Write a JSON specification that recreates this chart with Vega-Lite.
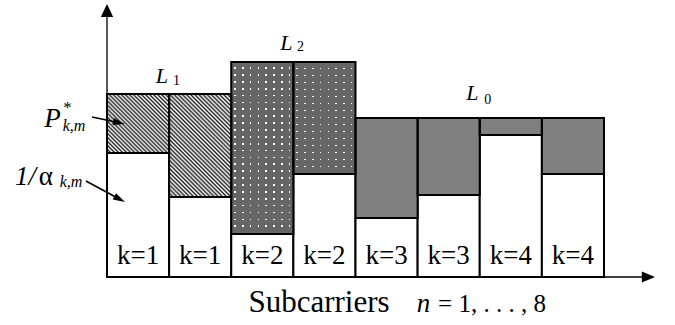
{
"$schema": "https://vega.github.io/schema/vega-lite/v6.json",
"width": 675, "height": 325,
"autosize": {"type": "fit", "contains": "padding"},
"padding": 0,
"background": "white",
"view": {"stroke": null},
"config": {"text": {"font": "'Liberation Serif', 'Times New Roman', Times, 'DejaVu Serif', serif"}},
"datasets": {
"bars": [
{"n":1,"k":"k=1","lo":0.5,"hi":1.5,"inv_alpha":12.4,"level":18.3,"group":"L1"},
{"n":2,"k":"k=1","lo":1.5,"hi":2.5,"inv_alpha":8.0,"level":18.3,"group":"L1"},
{"n":3,"k":"k=2","lo":2.5,"hi":3.5,"inv_alpha":4.3,"level":21.5,"group":"L2"},
{"n":4,"k":"k=2","lo":3.5,"hi":4.5,"inv_alpha":10.3,"level":21.5,"group":"L2"},
{"n":5,"k":"k=3","lo":4.5,"hi":5.5,"inv_alpha":5.9,"level":15.9,"group":"L0"},
{"n":6,"k":"k=3","lo":5.5,"hi":6.5,"inv_alpha":8.2,"level":15.9,"group":"L0"},
{"n":7,"k":"k=4","lo":6.5,"hi":7.5,"inv_alpha":14.2,"level":15.9,"group":"L0"},
{"n":8,"k":"k=4","lo":7.5,"hi":8.5,"inv_alpha":10.3,"level":15.9,"group":"L0"}
],
"levelL": [{"x":1.385,"y":19.4,"text":"L"},{"x":3.389,"y":22.7,"text":"L"},{"x":6.383,"y":17.7,"text":"L"}],
"levelSub": [{"x":1.62,"y":19.2,"text":"1"},{"x":3.615,"y":22.63,"text":"2"},{"x":6.63,"y":17.3,"text":"0"}],
"italicBig": [{"x":-0.377,"y":15.0,"text":"P"},{"x":-0.812,"y":9.2,"text":"1/"},{"x":5.595,"y":-3.47,"text":"n"}],
"greek": [{"x":-0.485,"y":9.2,"text":"α"}],
"italicSmall": [{"x":-0.03,"y":14.65,"text":"k,m"},{"x":-0.079,"y":9.0,"text":"k,m"}],
"star": [{"x":-0.136,"y":16.45,"text":"*"}],
"title": [{"x":3.912,"y":-3.47,"text":"Subcarriers"}],
"range": [{"x":5.83,"y":-3.47,"text":"= 1, . . . , 8"}]
},
"layer": [
{"data":{"name":"bars"},
 "mark":{"type":"rect","fill":"white","stroke":"black","strokeWidth":2},
 "encoding":{
  "x":{"field":"lo","type":"quantitative","scale":{"domain":[-1.2223,9.6429],"nice":false,"zero":false},"axis":null},
  "x2":{"field":"hi"},
  "y":{"field":"inv_alpha","type":"quantitative","scale":{"domain":[-4.8,27.7],"nice":false,"zero":false},"axis":null},
  "y2":{"datum":0}}},
{"data":{"name":"bars"},
 "transform":[{"filter":"datum.n == 1"}],
 "mark":{"type":"rect","strokeWidth":0,"fill":{"gradient":"linear","x1":0,"y1":1,"x2":1.025,"y2":0.026,"stops":[
{"offset":0,"color":"#222"},{"offset":0.0167,"color":"#fff"},{"offset":0.0333,"color":"#222"},{"offset":0.05,"color":"#fff"},
{"offset":0.0667,"color":"#222"},{"offset":0.0833,"color":"#fff"},{"offset":0.1,"color":"#222"},{"offset":0.1167,"color":"#fff"},
{"offset":0.1333,"color":"#222"},{"offset":0.15,"color":"#fff"},{"offset":0.1667,"color":"#222"},{"offset":0.1833,"color":"#fff"},
{"offset":0.2,"color":"#222"},{"offset":0.2167,"color":"#fff"},{"offset":0.2333,"color":"#222"},{"offset":0.25,"color":"#fff"},
{"offset":0.2667,"color":"#222"},{"offset":0.2833,"color":"#fff"},{"offset":0.3,"color":"#222"},{"offset":0.3167,"color":"#fff"},
{"offset":0.3333,"color":"#222"},{"offset":0.35,"color":"#fff"},{"offset":0.3667,"color":"#222"},{"offset":0.3833,"color":"#fff"},
{"offset":0.4,"color":"#222"},{"offset":0.4167,"color":"#fff"},{"offset":0.4333,"color":"#222"},{"offset":0.45,"color":"#fff"},
{"offset":0.4667,"color":"#222"},{"offset":0.4833,"color":"#fff"},{"offset":0.5,"color":"#222"},{"offset":0.5167,"color":"#fff"},
{"offset":0.5333,"color":"#222"},{"offset":0.55,"color":"#fff"},{"offset":0.5667,"color":"#222"},{"offset":0.5833,"color":"#fff"},
{"offset":0.6,"color":"#222"},{"offset":0.6167,"color":"#fff"},{"offset":0.6333,"color":"#222"},{"offset":0.65,"color":"#fff"},
{"offset":0.6667,"color":"#222"},{"offset":0.6833,"color":"#fff"},{"offset":0.7,"color":"#222"},{"offset":0.7167,"color":"#fff"},
{"offset":0.7333,"color":"#222"},{"offset":0.75,"color":"#fff"},{"offset":0.7667,"color":"#222"},{"offset":0.7833,"color":"#fff"},
{"offset":0.8,"color":"#222"},{"offset":0.8167,"color":"#fff"},{"offset":0.8333,"color":"#222"},{"offset":0.85,"color":"#fff"},
{"offset":0.8667,"color":"#222"},{"offset":0.8833,"color":"#fff"},{"offset":0.9,"color":"#222"},{"offset":0.9167,"color":"#fff"},
{"offset":0.9333,"color":"#222"},{"offset":0.95,"color":"#fff"},{"offset":0.9667,"color":"#222"},{"offset":0.9833,"color":"#fff"},
{"offset":1,"color":"#222"}]}},
 "encoding":{
  "x":{"field":"lo","type":"quantitative","scale":{"domain":[-1.2223,9.6429],"nice":false,"zero":false},"axis":null},
  "x2":{"field":"hi"},
  "y":{"field":"inv_alpha","type":"quantitative","scale":{"domain":[-4.8,27.7],"nice":false,"zero":false},"axis":null},
  "y2":{"field":"level"}}},
{"data":{"name":"bars"},
 "transform":[{"filter":"datum.n == 2"}],
 "mark":{"type":"rect","strokeWidth":0,"fill":{"gradient":"linear","x1":0,"y1":1,"x2":0.709,"y2":-0.176,"stops":[
{"offset":0,"color":"#222"},{"offset":0.0125,"color":"#fff"},{"offset":0.025,"color":"#222"},{"offset":0.0375,"color":"#fff"},
{"offset":0.05,"color":"#222"},{"offset":0.0625,"color":"#fff"},{"offset":0.075,"color":"#222"},{"offset":0.0875,"color":"#fff"},
{"offset":0.1,"color":"#222"},{"offset":0.1125,"color":"#fff"},{"offset":0.125,"color":"#222"},{"offset":0.1375,"color":"#fff"},
{"offset":0.15,"color":"#222"},{"offset":0.1625,"color":"#fff"},{"offset":0.175,"color":"#222"},{"offset":0.1875,"color":"#fff"},
{"offset":0.2,"color":"#222"},{"offset":0.2125,"color":"#fff"},{"offset":0.225,"color":"#222"},{"offset":0.2375,"color":"#fff"},
{"offset":0.25,"color":"#222"},{"offset":0.2625,"color":"#fff"},{"offset":0.275,"color":"#222"},{"offset":0.2875,"color":"#fff"},
{"offset":0.3,"color":"#222"},{"offset":0.3125,"color":"#fff"},{"offset":0.325,"color":"#222"},{"offset":0.3375,"color":"#fff"},
{"offset":0.35,"color":"#222"},{"offset":0.3625,"color":"#fff"},{"offset":0.375,"color":"#222"},{"offset":0.3875,"color":"#fff"},
{"offset":0.4,"color":"#222"},{"offset":0.4125,"color":"#fff"},{"offset":0.425,"color":"#222"},{"offset":0.4375,"color":"#fff"},
{"offset":0.45,"color":"#222"},{"offset":0.4625,"color":"#fff"},{"offset":0.475,"color":"#222"},{"offset":0.4875,"color":"#fff"},
{"offset":0.5,"color":"#222"},{"offset":0.5125,"color":"#fff"},{"offset":0.525,"color":"#222"},{"offset":0.5375,"color":"#fff"},
{"offset":0.55,"color":"#222"},{"offset":0.5625,"color":"#fff"},{"offset":0.575,"color":"#222"},{"offset":0.5875,"color":"#fff"},
{"offset":0.6,"color":"#222"},{"offset":0.6125,"color":"#fff"},{"offset":0.625,"color":"#222"},{"offset":0.6375,"color":"#fff"},
{"offset":0.65,"color":"#222"},{"offset":0.6625,"color":"#fff"},{"offset":0.675,"color":"#222"},{"offset":0.6875,"color":"#fff"},
{"offset":0.7,"color":"#222"},{"offset":0.7125,"color":"#fff"},{"offset":0.725,"color":"#222"},{"offset":0.7375,"color":"#fff"},
{"offset":0.75,"color":"#222"},{"offset":0.7625,"color":"#fff"},{"offset":0.775,"color":"#222"},{"offset":0.7875,"color":"#fff"},
{"offset":0.8,"color":"#222"},{"offset":0.8125,"color":"#fff"},{"offset":0.825,"color":"#222"},{"offset":0.8375,"color":"#fff"},
{"offset":0.85,"color":"#222"},{"offset":0.8625,"color":"#fff"},{"offset":0.875,"color":"#222"},{"offset":0.8875,"color":"#fff"},
{"offset":0.9,"color":"#222"},{"offset":0.9125,"color":"#fff"},{"offset":0.925,"color":"#222"},{"offset":0.9375,"color":"#fff"},
{"offset":0.95,"color":"#222"},{"offset":0.9625,"color":"#fff"},{"offset":0.975,"color":"#222"},{"offset":0.9875,"color":"#fff"},
{"offset":1,"color":"#222"}]}},
 "encoding":{
  "x":{"field":"lo","type":"quantitative","scale":{"domain":[-1.2223,9.6429],"nice":false,"zero":false},"axis":null},
  "x2":{"field":"hi"},
  "y":{"field":"inv_alpha","type":"quantitative","scale":{"domain":[-4.8,27.7],"nice":false,"zero":false},"axis":null},
  "y2":{"field":"level"}}},
{"data":{"name":"bars"},
 "transform":[{"filter":"datum.n == 3"}],
 "mark":{"type":"rect","strokeWidth":0,"fill":{"gradient":"linear","x1":0,"y1":0,"x2":0,"y2":1,"stops":[
{"offset":0,"color":"#666"},
{"offset":0.03,"color":"#666"},{"offset":0.03,"color":"#fff"},{"offset":0.04,"color":"#fff"},{"offset":0.04,"color":"#666"},
{"offset":0.07,"color":"#666"},{"offset":0.07,"color":"#fff"},{"offset":0.08,"color":"#fff"},{"offset":0.08,"color":"#666"},
{"offset":0.11,"color":"#666"},{"offset":0.11,"color":"#fff"},{"offset":0.12,"color":"#fff"},{"offset":0.12,"color":"#666"},
{"offset":0.15,"color":"#666"},{"offset":0.15,"color":"#fff"},{"offset":0.16,"color":"#fff"},{"offset":0.16,"color":"#666"},
{"offset":0.19,"color":"#666"},{"offset":0.19,"color":"#fff"},{"offset":0.2,"color":"#fff"},{"offset":0.2,"color":"#666"},
{"offset":0.23,"color":"#666"},{"offset":0.23,"color":"#fff"},{"offset":0.24,"color":"#fff"},{"offset":0.24,"color":"#666"},
{"offset":0.27,"color":"#666"},{"offset":0.27,"color":"#fff"},{"offset":0.28,"color":"#fff"},{"offset":0.28,"color":"#666"},
{"offset":0.31,"color":"#666"},{"offset":0.31,"color":"#fff"},{"offset":0.32,"color":"#fff"},{"offset":0.32,"color":"#666"},
{"offset":0.35,"color":"#666"},{"offset":0.35,"color":"#fff"},{"offset":0.36,"color":"#fff"},{"offset":0.36,"color":"#666"},
{"offset":0.39,"color":"#666"},{"offset":0.39,"color":"#fff"},{"offset":0.4,"color":"#fff"},{"offset":0.4,"color":"#666"},
{"offset":0.43,"color":"#666"},{"offset":0.43,"color":"#fff"},{"offset":0.44,"color":"#fff"},{"offset":0.44,"color":"#666"},
{"offset":0.47,"color":"#666"},{"offset":0.47,"color":"#fff"},{"offset":0.48,"color":"#fff"},{"offset":0.48,"color":"#666"},
{"offset":0.51,"color":"#666"},{"offset":0.51,"color":"#fff"},{"offset":0.52,"color":"#fff"},{"offset":0.52,"color":"#666"},
{"offset":0.55,"color":"#666"},{"offset":0.55,"color":"#fff"},{"offset":0.56,"color":"#fff"},{"offset":0.56,"color":"#666"},
{"offset":0.59,"color":"#666"},{"offset":0.59,"color":"#fff"},{"offset":0.6,"color":"#fff"},{"offset":0.6,"color":"#666"},
{"offset":0.63,"color":"#666"},{"offset":0.63,"color":"#fff"},{"offset":0.64,"color":"#fff"},{"offset":0.64,"color":"#666"},
{"offset":0.67,"color":"#666"},{"offset":0.67,"color":"#fff"},{"offset":0.68,"color":"#fff"},{"offset":0.68,"color":"#666"},
{"offset":0.71,"color":"#666"},{"offset":0.71,"color":"#fff"},{"offset":0.72,"color":"#fff"},{"offset":0.72,"color":"#666"},
{"offset":0.75,"color":"#666"},{"offset":0.75,"color":"#fff"},{"offset":0.76,"color":"#fff"},{"offset":0.76,"color":"#666"},
{"offset":0.79,"color":"#666"},{"offset":0.79,"color":"#fff"},{"offset":0.8,"color":"#fff"},{"offset":0.8,"color":"#666"},
{"offset":0.83,"color":"#666"},{"offset":0.83,"color":"#fff"},{"offset":0.84,"color":"#fff"},{"offset":0.84,"color":"#666"},
{"offset":0.87,"color":"#666"},{"offset":0.87,"color":"#fff"},{"offset":0.88,"color":"#fff"},{"offset":0.88,"color":"#666"},
{"offset":0.91,"color":"#666"},{"offset":0.91,"color":"#fff"},{"offset":0.92,"color":"#fff"},{"offset":0.92,"color":"#666"},
{"offset":0.95,"color":"#666"},{"offset":0.95,"color":"#fff"},{"offset":0.96,"color":"#fff"},{"offset":0.96,"color":"#666"},
{"offset":1,"color":"#666"}]}},
 "encoding":{
  "x":{"field":"lo","type":"quantitative","scale":{"domain":[-1.2223,9.6429],"nice":false,"zero":false},"axis":null},
  "x2":{"field":"hi"},
  "y":{"field":"inv_alpha","type":"quantitative","scale":{"domain":[-4.8,27.7],"nice":false,"zero":false},"axis":null},
  "y2":{"field":"level"}}},
{"data":{"name":"bars"},
 "transform":[{"filter":"datum.n == 4"}],
 "mark":{"type":"rect","strokeWidth":0,"fill":{"gradient":"linear","x1":0,"y1":0,"x2":0,"y2":1,"stops":[
{"offset":0,"color":"#666"},
{"offset":0.05,"color":"#666"},{"offset":0.05,"color":"#fff"},{"offset":0.0625,"color":"#fff"},{"offset":0.0625,"color":"#666"},
{"offset":0.1125,"color":"#666"},{"offset":0.1125,"color":"#fff"},{"offset":0.125,"color":"#fff"},{"offset":0.125,"color":"#666"},
{"offset":0.175,"color":"#666"},{"offset":0.175,"color":"#fff"},{"offset":0.1875,"color":"#fff"},{"offset":0.1875,"color":"#666"},
{"offset":0.2375,"color":"#666"},{"offset":0.2375,"color":"#fff"},{"offset":0.25,"color":"#fff"},{"offset":0.25,"color":"#666"},
{"offset":0.3,"color":"#666"},{"offset":0.3,"color":"#fff"},{"offset":0.3125,"color":"#fff"},{"offset":0.3125,"color":"#666"},
{"offset":0.3625,"color":"#666"},{"offset":0.3625,"color":"#fff"},{"offset":0.375,"color":"#fff"},{"offset":0.375,"color":"#666"},
{"offset":0.425,"color":"#666"},{"offset":0.425,"color":"#fff"},{"offset":0.4375,"color":"#fff"},{"offset":0.4375,"color":"#666"},
{"offset":0.4875,"color":"#666"},{"offset":0.4875,"color":"#fff"},{"offset":0.5,"color":"#fff"},{"offset":0.5,"color":"#666"},
{"offset":0.55,"color":"#666"},{"offset":0.55,"color":"#fff"},{"offset":0.5625,"color":"#fff"},{"offset":0.5625,"color":"#666"},
{"offset":0.6125,"color":"#666"},{"offset":0.6125,"color":"#fff"},{"offset":0.625,"color":"#fff"},{"offset":0.625,"color":"#666"},
{"offset":0.675,"color":"#666"},{"offset":0.675,"color":"#fff"},{"offset":0.6875,"color":"#fff"},{"offset":0.6875,"color":"#666"},
{"offset":0.7375,"color":"#666"},{"offset":0.7375,"color":"#fff"},{"offset":0.75,"color":"#fff"},{"offset":0.75,"color":"#666"},
{"offset":0.8,"color":"#666"},{"offset":0.8,"color":"#fff"},{"offset":0.8125,"color":"#fff"},{"offset":0.8125,"color":"#666"},
{"offset":0.8625,"color":"#666"},{"offset":0.8625,"color":"#fff"},{"offset":0.875,"color":"#fff"},{"offset":0.875,"color":"#666"},
{"offset":0.925,"color":"#666"},{"offset":0.925,"color":"#fff"},{"offset":0.9375,"color":"#fff"},{"offset":0.9375,"color":"#666"},
{"offset":1,"color":"#666"}]}},
 "encoding":{
  "x":{"field":"lo","type":"quantitative","scale":{"domain":[-1.2223,9.6429],"nice":false,"zero":false},"axis":null},
  "x2":{"field":"hi"},
  "y":{"field":"inv_alpha","type":"quantitative","scale":{"domain":[-4.8,27.7],"nice":false,"zero":false},"axis":null},
  "y2":{"field":"level"}}},
{"data":{"name":"bars"},
 "transform":[{"filter":"datum.group == 'L2'"}],
 "mark":{"type":"rect","strokeWidth":0,"fill":{"gradient":"linear","x1":0,"y1":0,"x2":1,"y2":0,"stops":[
{"offset":0,"color":"#666"},
{"offset":0.05,"color":"#666"},{"offset":0.05,"color":"rgba(102,102,102,0)"},{"offset":0.075,"color":"rgba(102,102,102,0)"},{"offset":0.075,"color":"#666"},
{"offset":0.175,"color":"#666"},{"offset":0.175,"color":"rgba(102,102,102,0)"},{"offset":0.2,"color":"rgba(102,102,102,0)"},{"offset":0.2,"color":"#666"},
{"offset":0.3,"color":"#666"},{"offset":0.3,"color":"rgba(102,102,102,0)"},{"offset":0.325,"color":"rgba(102,102,102,0)"},{"offset":0.325,"color":"#666"},
{"offset":0.425,"color":"#666"},{"offset":0.425,"color":"rgba(102,102,102,0)"},{"offset":0.45,"color":"rgba(102,102,102,0)"},{"offset":0.45,"color":"#666"},
{"offset":0.55,"color":"#666"},{"offset":0.55,"color":"rgba(102,102,102,0)"},{"offset":0.575,"color":"rgba(102,102,102,0)"},{"offset":0.575,"color":"#666"},
{"offset":0.675,"color":"#666"},{"offset":0.675,"color":"rgba(102,102,102,0)"},{"offset":0.7,"color":"rgba(102,102,102,0)"},{"offset":0.7,"color":"#666"},
{"offset":0.8,"color":"#666"},{"offset":0.8,"color":"rgba(102,102,102,0)"},{"offset":0.825,"color":"rgba(102,102,102,0)"},{"offset":0.825,"color":"#666"},
{"offset":0.925,"color":"#666"},{"offset":0.925,"color":"rgba(102,102,102,0)"},{"offset":0.95,"color":"rgba(102,102,102,0)"},{"offset":0.95,"color":"#666"},
{"offset":1,"color":"#666"}]}},
 "encoding":{
  "x":{"field":"lo","type":"quantitative","scale":{"domain":[-1.2223,9.6429],"nice":false,"zero":false},"axis":null},
  "x2":{"field":"hi"},
  "y":{"field":"inv_alpha","type":"quantitative","scale":{"domain":[-4.8,27.7],"nice":false,"zero":false},"axis":null},
  "y2":{"field":"level"}}},
{"data":{"name":"bars"},
 "transform":[{"filter":"datum.group == 'L0'"}],
 "mark":{"type":"rect","strokeWidth":0,"fill":"#808080"},
 "encoding":{
  "x":{"field":"lo","type":"quantitative","scale":{"domain":[-1.2223,9.6429],"nice":false,"zero":false},"axis":null},
  "x2":{"field":"hi"},
  "y":{"field":"inv_alpha","type":"quantitative","scale":{"domain":[-4.8,27.7],"nice":false,"zero":false},"axis":null},
  "y2":{"field":"level"}}},
{"data":{"name":"bars"},
 "mark":{"type":"rect","filled":false,"stroke":"black","strokeWidth":2},
 "encoding":{
  "x":{"field":"lo","type":"quantitative","scale":{"domain":[-1.2223,9.6429],"nice":false,"zero":false},"axis":null},
  "x2":{"field":"hi"},
  "y":{"field":"inv_alpha","type":"quantitative","scale":{"domain":[-4.8,27.7],"nice":false,"zero":false},"axis":null},
  "y2":{"field":"level"}}},
{"data":{"values":[{}]},
 "mark":{"type":"rule","color":"black","strokeWidth":1.3},
 "encoding":{
  "x":{"datum":0.5,"type":"quantitative","scale":{"domain":[-1.2223,9.6429],"nice":false,"zero":false},"axis":null},
  "y":{"datum":0,"type":"quantitative","scale":{"domain":[-4.8,27.7],"nice":false,"zero":false},"axis":null},
  "y2":{"datum":26.0}}},
{"data":{"values":[{}]},
 "mark":{"type":"rule","color":"black","strokeWidth":1.3},
 "encoding":{
  "x":{"datum":0.5,"type":"quantitative","scale":{"domain":[-1.2223,9.6429],"nice":false,"zero":false},"axis":null},
  "x2":{"datum":9.12},
  "y":{"datum":0,"type":"quantitative","scale":{"domain":[-4.8,27.7],"nice":false,"zero":false},"axis":null}}},
{"data":{"values":[{}]},
 "mark":{"type":"point","shape":"M0,-1L0.95,1L-0.95,1Z","size":169,"filled":true,"color":"black","opacity":1,"strokeWidth":0},
 "encoding":{
  "x":{"datum":0.5,"type":"quantitative","scale":{"domain":[-1.2223,9.6429],"nice":false,"zero":false},"axis":null},
  "y":{"datum":26.65,"type":"quantitative","scale":{"domain":[-4.8,27.7],"nice":false,"zero":false},"axis":null}}},
{"data":{"values":[{}]},
 "mark":{"type":"point","shape":"M1,0L-1,-0.85L-1,0.85Z","size":174,"filled":true,"color":"black","opacity":1,"strokeWidth":0},
 "encoding":{
  "x":{"datum":9.215,"type":"quantitative","scale":{"domain":[-1.2223,9.6429],"nice":false,"zero":false},"axis":null},
  "y":{"datum":0,"type":"quantitative","scale":{"domain":[-4.8,27.7],"nice":false,"zero":false},"axis":null}}},
{"data":{"values":[{}]},
 "mark":{"type":"rule","color":"black","strokeWidth":1.6},
 "encoding":{
  "x":{"datum":0.2585,"type":"quantitative","scale":{"domain":[-1.2223,9.6429],"nice":false,"zero":false},"axis":null},
  "x2":{"datum":0.7},
  "y":{"datum":16.0,"type":"quantitative","scale":{"domain":[-4.8,27.7],"nice":false,"zero":false},"axis":null},
  "y2":{"datum":15.42}}},
{"data":{"values":[{}]},
 "mark":{"type":"rule","color":"black","strokeWidth":1.6},
 "encoding":{
  "x":{"datum":0.162,"type":"quantitative","scale":{"domain":[-1.2223,9.6429],"nice":false,"zero":false},"axis":null},
  "x2":{"datum":0.705},
  "y":{"datum":9.6,"type":"quantitative","scale":{"domain":[-4.8,27.7],"nice":false,"zero":false},"axis":null},
  "y2":{"datum":7.78}}},
{"data":{"values":[{}]},
 "mark":{"type":"point","shape":"M1,0L-1,-0.6L-1,0.6Z","size":144,"angle":12,"filled":true,"color":"black","opacity":1,"strokeWidth":0},
 "encoding":{
  "x":{"datum":0.6948,"type":"quantitative","scale":{"domain":[-1.2223,9.6429],"nice":false,"zero":false},"axis":null},
  "y":{"datum":15.43,"type":"quantitative","scale":{"domain":[-4.8,27.7],"nice":false,"zero":false},"axis":null}}},
{"data":{"values":[{}]},
 "mark":{"type":"point","shape":"M1,0L-1,-0.6L-1,0.6Z","size":144,"angle":28,"filled":true,"color":"black","opacity":1,"strokeWidth":0},
 "encoding":{
  "x":{"datum":0.7044,"type":"quantitative","scale":{"domain":[-1.2223,9.6429],"nice":false,"zero":false},"axis":null},
  "y":{"datum":7.78,"type":"quantitative","scale":{"domain":[-4.8,27.7],"nice":false,"zero":false},"axis":null}}},
{"data":{"name":"bars"},
 "mark":{"type":"text","color":"black","fontSize":27,"align":"center","baseline":"alphabetic"},
 "encoding":{
  "x":{"field":"n","type":"quantitative","scale":{"domain":[-1.2223,9.6429],"nice":false,"zero":false},"axis":null},
  "y":{"datum":1.35,"type":"quantitative","scale":{"domain":[-4.8,27.7],"nice":false,"zero":false},"axis":null},
  "text":{"field":"k"}}},
{"data":{"name":"levelL"},
 "mark":{"type":"text","color":"black","fontSize":22,"fontStyle":"italic","align":"center","baseline":"alphabetic"},
 "encoding":{
  "x":{"field":"x","type":"quantitative","scale":{"domain":[-1.2223,9.6429],"nice":false,"zero":false},"axis":null},
  "y":{"field":"y","type":"quantitative","scale":{"domain":[-4.8,27.7],"nice":false,"zero":false},"axis":null},
  "text":{"field":"text"}}},
{"data":{"name":"levelSub"},
 "mark":{"type":"text","color":"black","fontSize":14,"align":"center","baseline":"alphabetic"},
 "encoding":{
  "x":{"field":"x","type":"quantitative","scale":{"domain":[-1.2223,9.6429],"nice":false,"zero":false},"axis":null},
  "y":{"field":"y","type":"quantitative","scale":{"domain":[-4.8,27.7],"nice":false,"zero":false},"axis":null},
  "text":{"field":"text"}}},
{"data":{"name":"italicBig"},
 "mark":{"type":"text","color":"black","fontSize":27,"fontStyle":"italic","align":"center","baseline":"alphabetic"},
 "encoding":{
  "x":{"field":"x","type":"quantitative","scale":{"domain":[-1.2223,9.6429],"nice":false,"zero":false},"axis":null},
  "y":{"field":"y","type":"quantitative","scale":{"domain":[-4.8,27.7],"nice":false,"zero":false},"axis":null},
  "text":{"field":"text"}}},
{"data":{"name":"greek"},
 "mark":{"type":"text","color":"black","fontSize":27,"align":"center","baseline":"alphabetic"},
 "encoding":{
  "x":{"field":"x","type":"quantitative","scale":{"domain":[-1.2223,9.6429],"nice":false,"zero":false},"axis":null},
  "y":{"field":"y","type":"quantitative","scale":{"domain":[-4.8,27.7],"nice":false,"zero":false},"axis":null},
  "text":{"field":"text"}}},
{"data":{"name":"italicSmall"},
 "mark":{"type":"text","color":"black","fontSize":16,"fontStyle":"italic","align":"center","baseline":"alphabetic"},
 "encoding":{
  "x":{"field":"x","type":"quantitative","scale":{"domain":[-1.2223,9.6429],"nice":false,"zero":false},"axis":null},
  "y":{"field":"y","type":"quantitative","scale":{"domain":[-4.8,27.7],"nice":false,"zero":false},"axis":null},
  "text":{"field":"text"}}},
{"data":{"name":"star"},
 "mark":{"type":"text","color":"black","fontSize":17,"align":"center","baseline":"alphabetic"},
 "encoding":{
  "x":{"field":"x","type":"quantitative","scale":{"domain":[-1.2223,9.6429],"nice":false,"zero":false},"axis":null},
  "y":{"field":"y","type":"quantitative","scale":{"domain":[-4.8,27.7],"nice":false,"zero":false},"axis":null},
  "text":{"field":"text"}}},
{"data":{"name":"title"},
 "mark":{"type":"text","color":"black","fontSize":31,"align":"center","baseline":"alphabetic"},
 "encoding":{
  "x":{"field":"x","type":"quantitative","scale":{"domain":[-1.2223,9.6429],"nice":false,"zero":false},"axis":null},
  "y":{"field":"y","type":"quantitative","scale":{"domain":[-4.8,27.7],"nice":false,"zero":false},"axis":null},
  "text":{"field":"text"}}},
{"data":{"name":"range"},
 "mark":{"type":"text","color":"black","fontSize":25,"align":"left","baseline":"alphabetic"},
 "encoding":{
  "x":{"field":"x","type":"quantitative","scale":{"domain":[-1.2223,9.6429],"nice":false,"zero":false},"axis":null},
  "y":{"field":"y","type":"quantitative","scale":{"domain":[-4.8,27.7],"nice":false,"zero":false},"axis":null},
  "text":{"field":"text"}}}
]
}
